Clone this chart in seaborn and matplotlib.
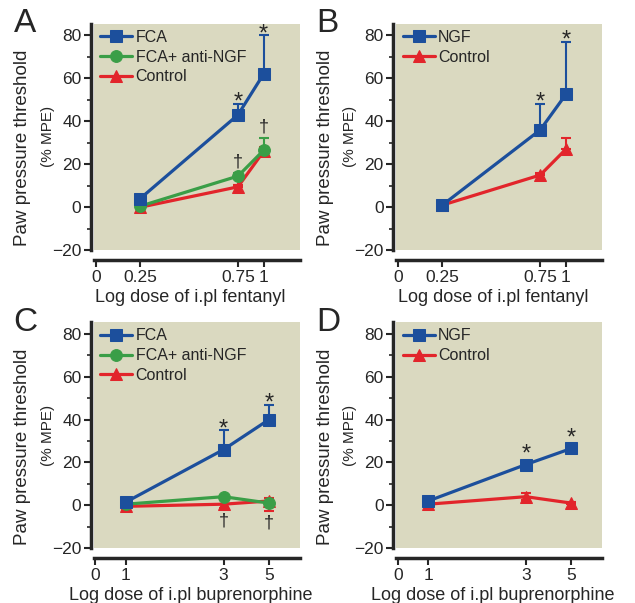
import matplotlib
matplotlib.use("Agg")
import matplotlib.pyplot as plt
import matplotlib.ticker as mticker
import pandas as pd
import seaborn as sns

# doses (log axis)
fentanyl_doses = [0.25, 0.75, 1]
bup_doses = [1, 3, 5]
fentanyl_labels = ["0", "0.25", "0.75", "1"]
bup_labels = ["0", "1", "3", "5"]

# panel A - fentanyl, FCA
a_fca = [4, 43, 62]
a_fca_hi = [1.5, 5, 18]
a_anti = [0.5, 14.5, 26.5]
a_anti_hi = [1, 1.5, 5.5]
a_ctrl = [0, 9.5, 26]
a_ctrl_hi = [0.5, 1, 2]

# panel B - fentanyl, NGF
b_ngf = [1, 36, 52.5]
b_ngf_hi = [0.5, 12, 24.5]
b_ctrl = [1, 15, 27]
b_ctrl_hi = [0.5, 1, 5]

# panel C - buprenorphine, FCA
c_fca = [1.5, 26, 40]
c_fca_hi = [0.5, 9, 7]
c_anti = [0.5, 4, 1]
c_anti_hi = [0.5, 0.5, 0.5]
c_ctrl = [-0.5, 0.5, 2]
c_ctrl_lo = [1.5, 2, 4.5]

# panel D - buprenorphine, NGF
d_ngf = [2, 19, 26.5]
d_ngf_hi = [0.5, 0.5, 0.5]
d_ctrl = [0.5, 4, 1]
d_ctrl_hi = [1, 1.5, 0.5]

BLUE = "#1c4f9c"
GREEN = "#3a9e47"
RED = "#e2252b"
BG = "#dad9c0"

sns.set_style("ticks")
plt.rcParams["font.family"] = ["Liberation Sans", "DejaVu Sans"]

fig = plt.figure(figsize=(6.35, 6.03), dpi=100)


def panel(rect, doses, series, xlim, zero_pos, labels, xlabel, letter):
    ax = fig.add_axes(rect)
    ax.set_facecolor(BG)
    for name, y, lo, hi, color, marker in reversed(series):
        df = pd.DataFrame({"dose": doses, "mpe": y})
        sns.lineplot(data=df, x="dose", y="mpe", ax=ax, color=color,
                     marker=marker, markersize=8.5, markeredgecolor=color,
                     linewidth=2.3, label=name)
        ax.errorbar(doses, y, yerr=[lo, hi], fmt="none", ecolor=color,
                    elinewidth=1.5, capsize=3.8, capthick=1.5)
    handles, names = ax.get_legend_handles_labels()
    ax.legend(handles[::-1], names[::-1], loc="upper left", frameon=False,
              fontsize=11.5, handlelength=2.0, handletextpad=0.2,
              borderaxespad=0.15, labelspacing=0.3, borderpad=0.25)
    ax.set_xscale("log")
    ax.set_xlim(*xlim)
    ax.set_ylim(-20, 85.5)
    ax.xaxis.set_minor_locator(mticker.NullLocator())
    ax.set_xticks([zero_pos] + list(doses))
    ax.set_xticklabels(labels)
    ax.yaxis.set_major_locator(mticker.MultipleLocator(20))
    ax.yaxis.set_minor_locator(mticker.MultipleLocator(10))
    ax.tick_params(labelsize=12.5, width=1.5, length=5, pad=2)
    ax.tick_params(axis="y", which="minor", width=1.2, length=3)
    for s in ["top", "right"]:
        ax.spines[s].set_visible(False)
    ax.spines["left"].set_linewidth(2.5)
    ax.spines["bottom"].set_linewidth(2.5)
    ax.spines["left"].set_position(("outward", 2))
    ax.spines["bottom"].set_position(("outward", 7))
    ax.set_xlabel(xlabel, fontsize=13, labelpad=3)
    ax.xaxis.set_label_coords(0.47, -0.17)
    ax.set_ylabel("")
    ax.text(-0.345, 0.45, "Paw pressure threshold", transform=ax.transAxes,
            rotation=90, ha="center", va="center", fontsize=13.5)
    ax.text(-0.225, 0.5, "(% MPE)", transform=ax.transAxes,
            rotation=90, ha="center", va="center", fontsize=11)
    ax.text(-0.39, 1.0, letter, transform=ax.transAxes, fontsize=24,
            ha="left", va="center")
    return ax


def mark(ax, xs, tops, sym, offset, va="baseline"):
    for x, t in zip(xs, tops):
        ax.annotate(sym, (x, t), xytext=(0, offset), textcoords="offset points",
                    ha="center", va=va, fontsize=17 if sym == "*" else 13)


fent_xlim = (0.149, 1.5)
bup_xlim = (0.698, 7.06)

axA = panel([0.148, 0.585, 0.324, 0.376], fentanyl_doses,
            [("FCA", a_fca, [0, 0, 0], a_fca_hi, BLUE, "s"),
             ("FCA+ anti-NGF", a_anti, [0, 0, 0], a_anti_hi, GREEN, "o"),
             ("Control", a_ctrl, [0, 0, 0], a_ctrl_hi, RED, "^")],
            fent_xlim, 0.152, fentanyl_labels, "Log dose of i.pl fentanyl", "A")
mark(axA, fentanyl_doses[1:], [a + e for a, e in zip(a_fca[1:], a_fca_hi[1:])], "*", -3.5)
mark(axA, fentanyl_doses[1:], [a + e for a, e in zip(a_anti[1:], a_anti_hi[1:])], "\u2020", 2, "bottom")

axB = panel([0.624, 0.585, 0.324, 0.376], fentanyl_doses,
            [("NGF", b_ngf, [0, 0, 0], b_ngf_hi, BLUE, "s"),
             ("Control", b_ctrl, [0, 0, 0], b_ctrl_hi, RED, "^")],
            fent_xlim, 0.152, fentanyl_labels, "Log dose of i.pl fentanyl", "B")
mark(axB, fentanyl_doses[1:], [a + e for a, e in zip(b_ngf[1:], b_ngf_hi[1:])], "*", -3.5)

axC = panel([0.148, 0.091, 0.324, 0.375], bup_doses,
            [("FCA", c_fca, [0, 0, 0], c_fca_hi, BLUE, "s"),
             ("FCA+ anti-NGF", c_anti, [0, 0, 0], c_anti_hi, GREEN, "o"),
             ("Control", c_ctrl, c_ctrl_lo, [0, 0, 1.5], RED, "^")],
            bup_xlim, 0.71, bup_labels, "Log dose of i.pl buprenorphine", "C")
mark(axC, bup_doses[1:], [a + e for a, e in zip(c_fca[1:], c_fca_hi[1:])], "*", -3.5)
mark(axC, bup_doses[1:], [a - e for a, e in zip(c_ctrl[1:], c_ctrl_lo[1:])], "\u2020", -3, "top")

axD = panel([0.624, 0.091, 0.324, 0.375], bup_doses,
            [("NGF", d_ngf, [0, 0, 0], d_ngf_hi, BLUE, "s"),
             ("Control", d_ctrl, [0.5, 1.5, 0.5], d_ctrl_hi, RED, "^")],
            bup_xlim, 0.71, bup_labels, "Log dose of i.pl buprenorphine", "D")
mark(axD, bup_doses[1:], [a + e for a, e in zip(d_ngf[1:], d_ngf_hi[1:])], "*", 2)

fig.savefig("out.png", dpi=100)
